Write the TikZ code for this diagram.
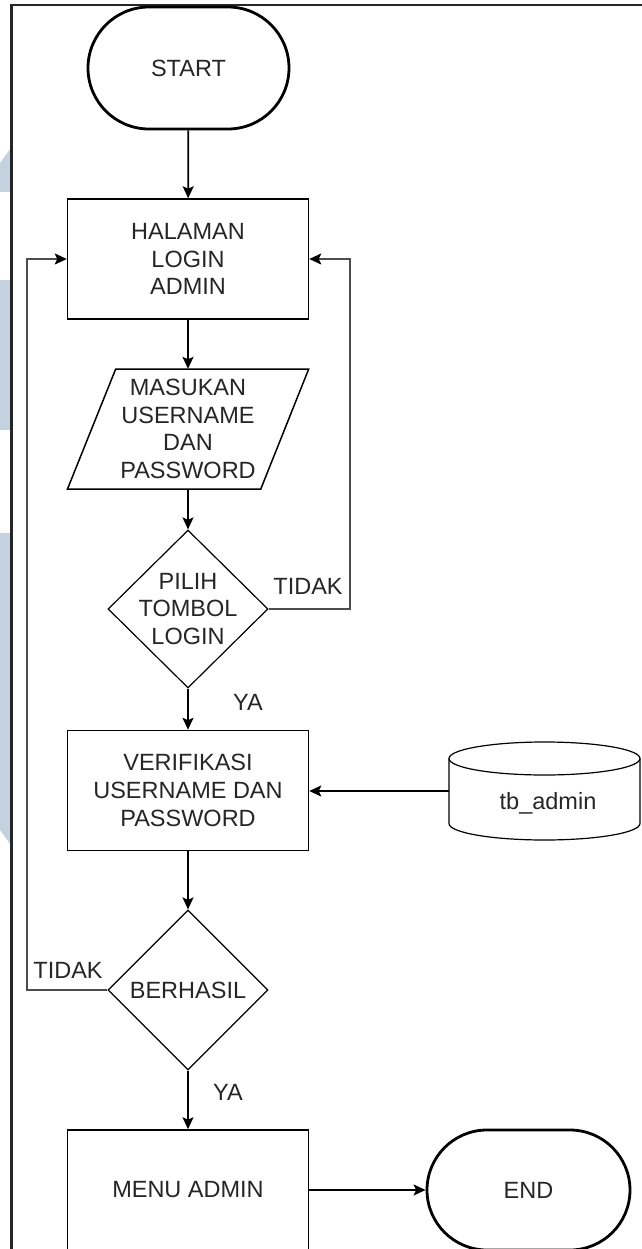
\documentclass[tikz,border=0pt]{standalone}
\usepackage{fontspec}
\setmainfont{Liberation Sans}
\usetikzlibrary{shapes.geometric,shapes.misc,arrows.meta}
\definecolor{txt}{HTML}{262626}
\definecolor{wm}{HTML}{C4D2DF}
\begin{document}
\begin{tikzpicture}[x=1pt,y=-1pt,
  font=\fontsize{23.5}{27.7}\selectfont,
  every node/.style={text=txt},
  term/.style={rounded rectangle, draw, line width=2.8pt, minimum width=201pt, minimum height=122pt, inner sep=0pt},
  proc/.style={rectangle, draw, line width=1.5pt, minimum width=241pt, minimum height=120pt, align=center, inner sep=0pt},
  dec/.style={diamond, draw, line width=1.2pt, minimum width=160pt, minimum height=158pt, inner sep=0pt},
  lbl/.style={align=center, inner sep=0pt},
  conn/.style={line width=1.7pt, -{Stealth[length=12pt,width=11pt,inset=2.5pt]}},
  loopline/.style={line width=1.9pt, draw=black!70, -{Stealth[length=12pt,width=11pt,inset=2.5pt,color=black]}},
]
\useasboundingbox (0,0) rectangle (641,1249);
\fill[white] (0,0) rectangle (641,1249);
% watermark remnants
\fill[wm] (0,163) -- (11,148) -- (11,192) -- (0,192) -- cycle;
\fill[wm] (0,280) rectangle (11,430);
\fill[wm] (0,533) -- (11,533) -- (11,845) -- (0,830) -- cycle;
% frame
\draw[line width=2.5pt, black!85] (11.5,1252) -- (11.5,5) -- (645,5);

% nodes
\node[term] (start) at (188.5,68) {START};
\node[proc] (login) at (188,259) {HALAMAN\\LOGIN\\ADMIN};
\node[lbl, minimum width=145pt, minimum height=120pt] (input) at (188,429) {MASUKAN\\USERNAME\\DAN\\PASSWORD};
\draw[line width=1.5pt] (115.7,369) -- (308.7,369) -- (260.8,489) -- (67.5,489) -- cycle;
\node[dec] (d1) at (188,609) {};
\node[lbl] (d1t) at (d1) {PILIH\\TOMBOL\\LOGIN};
\node[proc] (verif) at (188,790.5) {VERIFIKASI\\USERNAME DAN\\PASSWORD};
\node[inner sep=0pt, minimum width=191pt, minimum height=98pt] (db) at (544.5,791) {};
\draw[line width=1.2pt] (544.5,758.5) ellipse [x radius=95.5pt, y radius=16.5pt];
\draw[line width=1.2pt] (449,758.5) -- (449,823.5) arc[start angle=180, end angle=360, x radius=95.5pt, y radius=16.5pt] -- (640,758.5);
\node[lbl] (dbt) at (548,803) {tb\_admin};
\node[dec, minimum height=160pt] (d2) at (188,990) {};
\node[lbl] (d2t) at (d2) {BERHASIL};
\node[proc] (menu) at (188,1190) {MENU ADMIN};
\node[term, minimum width=203pt, minimum height=120pt] (end) at (528.5,1190) {END};

% connectors
\draw[conn] (start) -- (login);
\draw[conn] (login) -- (input);
\draw[conn] (input) -- (d1);
\draw[loopline] (d1.east) -- ++(81,0) |- (login.east);
\node[lbl] (t1) at (308,586) {TIDAK};
\draw[conn] (d1) -- (verif);
\node[lbl] (y1) at (248,702) {YA};
\draw[conn] (db.west) -- (db.west -| verif.east);
\draw[conn] (verif) -- (d2);
\draw[loopline] (d2.west) -- ++(-80,0) |- (login.west);
\node[lbl] (t2) at (68,970) {TIDAK};
\draw[conn] (d2) -- (menu);
\node[lbl] (y2) at (228,1092) {YA};
\draw[conn] (menu) -- (end);
\end{tikzpicture}
\end{document}
